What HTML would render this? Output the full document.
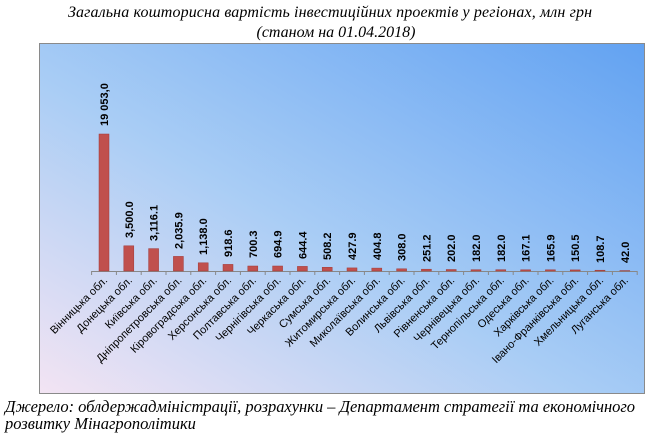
<!DOCTYPE html>
<html><head><meta charset="utf-8"><style>
body{margin:0;width:661px;height:436px;background:#fff;overflow:hidden}
svg{display:block}
</style></head><body>
<svg width="661" height="436" xmlns="http://www.w3.org/2000/svg">
<defs>
<linearGradient id="bg" x1="0" y1="1" x2="1" y2="0">
<stop offset="0" stop-color="#f3e4f3"/>
<stop offset="0.45" stop-color="#a9cdf5"/>
<stop offset="1" stop-color="#62a2f2"/>
</linearGradient>
</defs>
<g font-family="Liberation Serif, serif" font-style="italic" font-size="16" fill="#000">
<text x="330" y="17" text-anchor="middle" textLength="524">Загальна кошторисна вартість інвестиційних проектів у регіонах, млн грн</text>
<text x="336" y="37" text-anchor="middle">(станом на 01.04.2018)</text>
<text x="5" y="412" font-size="16.5" textLength="630">Джерело: облдержадміністрації, розрахунки – Департамент стратегії та економічного</text>
<text x="5" y="429" font-size="16.5">розвитку Мінагрополітики</text>
</g>
<rect x="39.5" y="43.5" width="605" height="350" fill="url(#bg)" stroke="#8a8a8a"/>
<line x1="91.6" y1="271.5" x2="637" y2="271.5" stroke="#888"/>
<g stroke="#888">
<line x1="91.6" y1="271" x2="91.6" y2="275"/><line x1="116.4" y1="271" x2="116.4" y2="275"/><line x1="141.2" y1="271" x2="141.2" y2="275"/><line x1="166" y1="271" x2="166" y2="275"/><line x1="190.8" y1="271" x2="190.8" y2="275"/><line x1="215.6" y1="271" x2="215.6" y2="275"/><line x1="240.4" y1="271" x2="240.4" y2="275"/><line x1="265.2" y1="271" x2="265.2" y2="275"/><line x1="290" y1="271" x2="290" y2="275"/><line x1="314.8" y1="271" x2="314.8" y2="275"/><line x1="339.6" y1="271" x2="339.6" y2="275"/><line x1="364.4" y1="271" x2="364.4" y2="275"/><line x1="389.2" y1="271" x2="389.2" y2="275"/><line x1="414" y1="271" x2="414" y2="275"/><line x1="438.8" y1="271" x2="438.8" y2="275"/><line x1="463.6" y1="271" x2="463.6" y2="275"/><line x1="488.4" y1="271" x2="488.4" y2="275"/><line x1="513.2" y1="271" x2="513.2" y2="275"/><line x1="538" y1="271" x2="538" y2="275"/><line x1="562.8" y1="271" x2="562.8" y2="275"/><line x1="587.6" y1="271" x2="587.6" y2="275"/><line x1="612.4" y1="271" x2="612.4" y2="275"/><line x1="637.2" y1="271" x2="637.2" y2="275"/>
</g>
<g fill="#c0504d" stroke="#a03a38" stroke-width="0.5">
<rect x="99" y="134" width="10" height="137"/>
<rect x="123.8" y="245.8" width="10" height="25.2"/>
<rect x="148.6" y="248.6" width="10" height="22.4"/>
<rect x="173.4" y="256.4" width="10" height="14.6"/>
<rect x="198.2" y="262.8" width="10" height="8.2"/>
<rect x="223" y="264.4" width="10" height="6.6"/>
<rect x="247.8" y="266" width="10" height="5"/>
<rect x="272.6" y="266" width="10" height="5"/>
<rect x="297.4" y="266.4" width="10" height="4.6"/>
<rect x="322.2" y="267.3" width="10" height="3.7"/>
<rect x="347" y="267.9" width="10" height="3.1"/>
<rect x="371.8" y="268.1" width="10" height="2.9"/>
<rect x="396.6" y="268.8" width="10" height="2.2"/>
<rect x="421.4" y="269.2" width="10" height="1.8"/>
<rect x="446.2" y="269.5" width="10" height="1.5"/>
<rect x="471" y="269.7" width="10" height="1.3"/>
<rect x="495.8" y="269.7" width="10" height="1.3"/>
<rect x="520.6" y="269.8" width="10" height="1.2"/>
<rect x="545.4" y="269.8" width="10" height="1.2"/>
<rect x="570.2" y="269.9" width="10" height="1.1"/>
<rect x="595" y="270.2" width="10" height="0.8"/>
<rect x="619.8" y="270.6" width="10" height="0.4"/>
</g>
<g font-family="Liberation Sans, sans-serif" font-weight="bold" font-size="11" fill="#000">
<text transform="translate(108,126) rotate(-90)">19 053,0</text>
<text transform="translate(132.8,238) rotate(-90)">3,500.0</text>
<text transform="translate(157.6,241) rotate(-90)">3,116.1</text>
<text transform="translate(182.4,249) rotate(-90)">2,035.9</text>
<text transform="translate(207.2,255) rotate(-90)">1,138.0</text>
<text transform="translate(232,257) rotate(-90)">918.6</text>
<text transform="translate(256.8,258) rotate(-90)">700.3</text>
<text transform="translate(281.6,258) rotate(-90)">694.9</text>
<text transform="translate(306.4,259) rotate(-90)">644.4</text>
<text transform="translate(331.2,260) rotate(-90)">508.2</text>
<text transform="translate(356,260) rotate(-90)">427.9</text>
<text transform="translate(380.8,260) rotate(-90)">404.8</text>
<text transform="translate(405.6,261) rotate(-90)">308.0</text>
<text transform="translate(430.4,262) rotate(-90)">251.2</text>
<text transform="translate(455.2,262) rotate(-90)">202.0</text>
<text transform="translate(480,262) rotate(-90)">182.0</text>
<text transform="translate(504.8,262) rotate(-90)">182.0</text>
<text transform="translate(529.6,262) rotate(-90)">167.1</text>
<text transform="translate(554.4,262) rotate(-90)">165.9</text>
<text transform="translate(579.2,262) rotate(-90)">150.5</text>
<text transform="translate(604,263) rotate(-90)">108.7</text>
<text transform="translate(628.8,263) rotate(-90)">42.0</text>
</g>
<g font-family="Liberation Sans, sans-serif" font-size="11" fill="#000" text-anchor="end">
<text transform="translate(108,281) rotate(-45)">Вінницька обл.</text>
<text transform="translate(132.8,281) rotate(-45)">Донецька обл.</text>
<text transform="translate(157.6,281) rotate(-45)">Київська обл.</text>
<text transform="translate(182.4,281) rotate(-45)">Дніпропетровська обл.</text>
<text transform="translate(207.2,281) rotate(-45)">Кіровоградська обл.</text>
<text transform="translate(232,281) rotate(-45)">Херсонська обл.</text>
<text transform="translate(256.8,281) rotate(-45)">Полтавська обл.</text>
<text transform="translate(281.6,281) rotate(-45)">Чернігівська обл.</text>
<text transform="translate(306.4,281) rotate(-45)">Черкаська обл.</text>
<text transform="translate(331.2,281) rotate(-45)">Сумська обл.</text>
<text transform="translate(356,281) rotate(-45)">Житомирська обл.</text>
<text transform="translate(380.8,281) rotate(-45)">Миколаївська обл.</text>
<text transform="translate(405.6,281) rotate(-45)">Волинська обл.</text>
<text transform="translate(430.4,281) rotate(-45)">Львівська обл.</text>
<text transform="translate(455.2,281) rotate(-45)">Рівненська обл.</text>
<text transform="translate(480,281) rotate(-45)">Чернівецька обл.</text>
<text transform="translate(504.8,281) rotate(-45)">Тернопільська обл.</text>
<text transform="translate(529.6,281) rotate(-45)">Одеська обл.</text>
<text transform="translate(554.4,281) rotate(-45)">Харківська обл.</text>
<text transform="translate(579.2,281) rotate(-45)">Івано-Франківська обл.</text>
<text transform="translate(604,281) rotate(-45)">Хмельницька обл.</text>
<text transform="translate(628.8,281) rotate(-45)">Луганська обл.</text>
</g>
</svg>
</body></html>
